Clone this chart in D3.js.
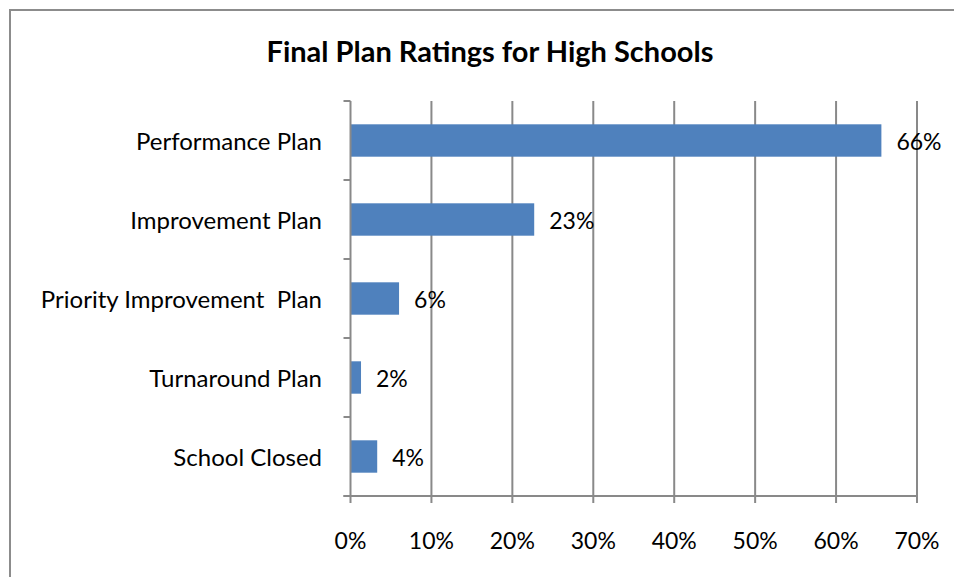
<!DOCTYPE html>
<html>
<head>
<meta charset="utf-8">
<script src="https://cdn.jsdelivr.net/npm/d3@7"></script>
<style>
  html, body { margin: 0; padding: 0; background: #fff; }
  svg { display: block; }
  text { font-family: Lato, "Open Sans", sans-serif; fill: #000; }
</style>
</head>
<body>
<svg id="chart" width="954" height="577"></svg>
<script>
const title = "Final Plan Ratings for High Schools";
const categories = ["Performance Plan", "Improvement Plan", "Priority Improvement  Plan", "Turnaround Plan", "School Closed"];
const values = [65.6, 22.7, 6.0, 1.3, 3.3];
const valueLabels = ["66%", "23%", "6%", "2%", "4%"];
const xTicks = [0, 10, 20, 30, 40, 50, 60, 70];

const svg = d3.select("#chart");
const W = 954, H = 577;
const plot = { left: 350.5, right: 917, top: 101, bottom: 496 };
const gridColor = "#898989";

// outer chart border
svg.append("path")
  .attr("d", `M${W + 2},10 H10 V${H + 2}`)
  .attr("fill", "none").attr("stroke", "#8c8c8c").attr("stroke-width", 2);

svg.append("text")
  .attr("x", 490).attr("y", 50)
  .attr("text-anchor", "middle").attr("dominant-baseline", "central")
  .attr("font-size", 29).attr("font-weight", "bold")
  .text(title);

const x = d3.scaleLinear().domain([0, 70]).range([plot.left, plot.right]);
const y = d3.scaleBand().domain(categories).range([plot.top, plot.bottom])
  .paddingInner(0.59).paddingOuter(0.295);
const yBand = d3.scaleBand().domain(categories).range([plot.top, plot.bottom]);

// vertical gridlines
svg.append("g").selectAll("line").data(xTicks.slice(1)).join("line")
  .attr("x1", d => x(d)).attr("x2", d => x(d))
  .attr("y1", plot.top).attr("y2", plot.bottom + 7)
  .attr("stroke", gridColor).attr("stroke-width", 2);

// bars
svg.append("g").selectAll("rect").data(categories).join("rect")
  .attr("x", x(0)).attr("y", d => y(d))
  .attr("width", (d, i) => x(values[i]) - x(0))
  .attr("height", y.bandwidth())
  .attr("fill", "#4f81bd");

// category axis line and ticks
svg.append("line")
  .attr("x1", plot.left).attr("x2", plot.left)
  .attr("y1", plot.top).attr("y2", plot.bottom + 7)
  .attr("stroke", gridColor).attr("stroke-width", 2);
const catTicks = categories.map(c => yBand(c)).concat([plot.bottom]);
svg.append("g").selectAll("line").data(catTicks).join("line")
  .attr("x1", plot.left - 7).attr("x2", plot.left)
  .attr("y1", d => d).attr("y2", d => d)
  .attr("stroke", gridColor).attr("stroke-width", 2);

// value axis line
svg.append("line")
  .attr("x1", plot.left - 7).attr("x2", plot.right + 1)
  .attr("y1", plot.bottom).attr("y2", plot.bottom)
  .attr("stroke", gridColor).attr("stroke-width", 2);

// category labels
svg.append("g").selectAll("text").data(categories).join("text")
  .attr("x", 322).attr("y", d => yBand(d) + yBand.bandwidth() / 2)
  .attr("text-anchor", "end").attr("dominant-baseline", "central")
  .attr("font-size", 24)
  .attr("xml:space", "preserve")
  .text(d => d);

// tick labels
svg.append("g").selectAll("text").data(xTicks).join("text")
  .attr("x", d => x(d)).attr("y", 540)
  .attr("text-anchor", "middle").attr("dominant-baseline", "central")
  .attr("font-size", 23)
  .text(d => d + "%");

// value labels
svg.append("g").selectAll("text").data(categories).join("text")
  .attr("x", (d, i) => x(values[i]) + 15)
  .attr("y", d => y(d) + y.bandwidth() / 2)
  .attr("dominant-baseline", "central")
  .attr("font-size", 23)
  .text((d, i) => valueLabels[i]);
</script>
</body>
</html>
